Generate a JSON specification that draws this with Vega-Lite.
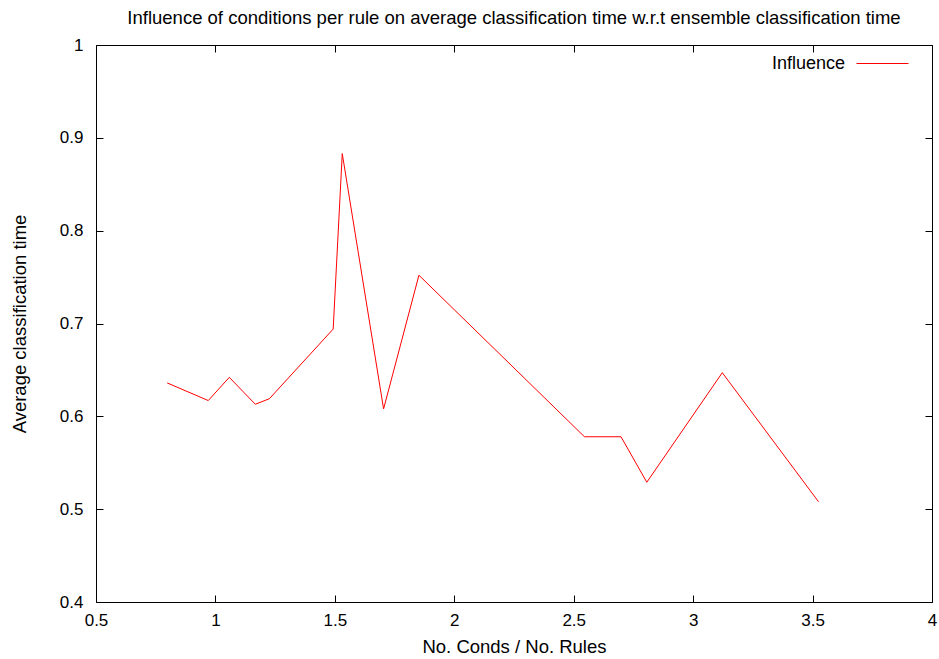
{
  "$schema": "https://vega.github.io/schema/vega-lite/v6.json",
  "width": 836,
  "height": 557,
  "autosize": {"type": "none"},
  "padding": {"left": 96, "top": 45, "right": 7, "bottom": 57},
  "background": "white",
  "title": {
    "text": "Influence of conditions per rule on average classification time w.r.t ensemble classification time",
    "font": "Liberation Sans",
    "fontSize": 18.5,
    "fontWeight": "normal",
    "color": "black",
    "anchor": "middle",
    "offset": 9
  },
  "config": {
    "view": {"stroke": "black", "strokeWidth": 1},
    "axis": {
      "grid": false,
      "domain": false,
      "tickColor": "black",
      "tickSize": -7,
      "labelFont": "Liberation Sans",
      "labelFontSize": 17,
      "labelColor": "black",
      "titleFont": "Liberation Sans",
      "titleFontSize": 18.5,
      "titleFontWeight": "normal",
      "titleColor": "black"
    }
  },
  "data": {
    "values": [
      {"ratio": 0.798, "time": 0.636, "series": "Influence"},
      {"ratio": 0.970, "time": 0.617, "series": "Influence"},
      {"ratio": 1.058, "time": 0.642, "series": "Influence"},
      {"ratio": 1.167, "time": 0.613, "series": "Influence"},
      {"ratio": 1.226, "time": 0.619, "series": "Influence"},
      {"ratio": 1.493, "time": 0.694, "series": "Influence"},
      {"ratio": 1.531, "time": 0.883, "series": "Influence"},
      {"ratio": 1.704, "time": 0.608, "series": "Influence"},
      {"ratio": 1.852, "time": 0.752, "series": "Influence"},
      {"ratio": 2.545, "time": 0.578, "series": "Influence"},
      {"ratio": 2.698, "time": 0.578, "series": "Influence"},
      {"ratio": 2.806, "time": 0.529, "series": "Influence"},
      {"ratio": 3.122, "time": 0.647, "series": "Influence"},
      {"ratio": 3.525, "time": 0.508, "series": "Influence"}
    ]
  },
  "layer": [
    {
      "mark": {"type": "line", "strokeWidth": 1, "clip": true},
      "encoding": {
        "x": {
          "field": "ratio", "type": "quantitative",
          "scale": {"domain": [0.5, 4], "nice": false, "zero": false},
          "axis": {"title": "No. Conds / No. Rules", "values": [0.5, 1, 1.5, 2, 2.5, 3, 3.5, 4], "format": "~g", "labelPadding": 17, "titlePadding": 9, "labelFlush": false}
        },
        "y": {
          "field": "time", "type": "quantitative",
          "scale": {"domain": [0.4, 1], "nice": false, "zero": false},
          "axis": {"title": "Average classification time", "values": [0.4, 0.5, 0.6, 0.7, 0.8, 0.9, 1], "format": "~g", "labelPadding": 20, "titlePadding": 30, "labelFlush": false}
        },
        "color": {
          "field": "series", "type": "nominal",
          "scale": {"range": ["#ff0000"]},
          "legend": {
            "title": null,
            "orient": "none",
            "legendX": 760,
            "legendY": -8,
            "symbolType": "stroke",
            "symbolSize": 2704,
            "symbolStrokeWidth": 1,
            "labelAlign": "right",
            "labelOffset": -64,
            "labelFont": "Liberation Sans",
            "labelFontSize": 18,
            "labelColor": "black"
          }
        }
      }
    },
    {
      "mark": {"type": "line", "opacity": 0},
      "encoding": {
        "x": {"field": "ratio", "type": "quantitative", "scale": {"domain": [0.5, 4], "nice": false, "zero": false},
          "axis": {"orient": "top", "title": null, "labels": false, "values": [0.5, 1, 1.5, 2, 2.5, 3, 3.5, 4]}},
        "y": {"field": "time", "type": "quantitative", "scale": {"domain": [0.4, 1], "nice": false, "zero": false},
          "axis": {"orient": "right", "title": null, "labels": false, "values": [0.4, 0.5, 0.6, 0.7, 0.8, 0.9, 1]}}
      }
    }
  ],
  "resolve": {"axis": {"x": "independent", "y": "independent"}}
}
